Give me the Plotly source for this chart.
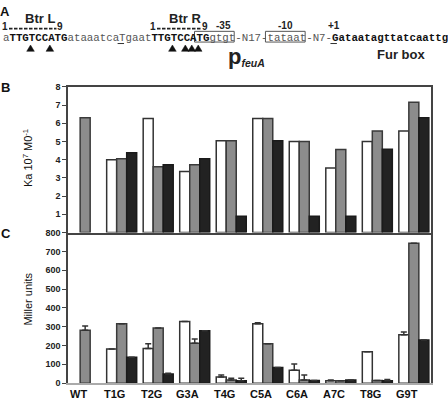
import plotly.graph_objects as go

# ---------------- data ----------------
categories = ["WT", "T1G", "T2G", "G3A", "T4G", "C5A", "C6A", "A7C", "T8G", "G9T"]

# Panel B: Ka (10^7 M^-1)
ka_white = [None, 4.0, 6.26, 3.36, 5.04, 6.26, 5.0, 3.54, 5.0, 5.58]
ka_gray = [6.3, 4.05, 3.61, 3.72, 5.04, 6.26, 5.0, 4.56, 5.58, 7.16]
ka_black = [None, 4.38, 3.72, 4.06, 0.9, 5.04, 0.9, 0.9, 4.58, 6.3]

# Panel C: Miller units
mu_white = [None, 181, 184, 328, 33, 316, 69, 12, 167, 257]
mu_gray = [281, 316, 293, 212, 17, 209, 17, 12, 14, 743]
mu_black = [None, 138, 48, 278, 12, 83, 14, 17, 12, 229]
mu_white_err = [0, 0, 25, 0, 10, 5, 33, 5, 0, 14]
mu_gray_err = [22, 0, 0, 22, 9, 0, 26, 0, 0, 0]
mu_black_err = [0, 0, 4, 0, 14, 0, 0, 0, 7, 0]

b_ticks = [1, 2, 3, 4, 5, 6, 7, 8]
c_ticks = [0, 100, 200, 300, 400, 500, 600, 700, 800]

W, H = 448, 405


def px(x):
    return x / W


def py(y):
    return 1 - y / H


fills = ["#ffffff", "#8c8c8c", "#222222"]
edges = ["#333333", "#3a3a3a", "#1a1a1a"]

fig = go.Figure()
for vals, f, e in zip([ka_white, ka_gray, ka_black], fills, edges):
    fig.add_trace(go.Bar(x=categories, y=vals, xaxis="x", yaxis="y",
                         marker=dict(color=f, line=dict(color=e, width=1.5)),
                         showlegend=False, hoverinfo="skip"))
for vals, err, f, e in zip([mu_white, mu_gray, mu_black],
                           [mu_white_err, mu_gray_err, mu_black_err], fills, edges):
    fig.add_trace(go.Bar(x=categories, y=vals, xaxis="x2", yaxis="y2",
                         marker=dict(color=f, line=dict(color=e, width=1.5)),
                         error_y=dict(type="data", array=err, arrayminus=[0] * len(err),
                                      symmetric=False, color="#333", thickness=1.5, width=3),
                         showlegend=False, hoverinfo="skip"))

xdom = [px(68), px(431)]
tickfont = dict(family="Liberation Sans", size=9, color="#222", weight="bold")
fig.update_layout(
    width=W, height=H, margin=dict(l=0, r=0, t=0, b=0),
    paper_bgcolor="white", plot_bgcolor="white",
    barmode="group", bargap=0.178, bargroupgap=0,
    xaxis=dict(domain=xdom, anchor="y", range=[-0.47, 9.47], showticklabels=False,
               showline=True, mirror=True, linecolor="#444", linewidth=1.5,
               showgrid=False, zeroline=False, ticks=""),
    yaxis=dict(domain=[py(233.3), py(84)], anchor="x", range=[0, 8], tickvals=b_ticks,
               ticks="outside", ticklen=4, tickcolor="#444", showline=True, mirror=True,
               linecolor="#444", linewidth=1.5, showgrid=False, zeroline=False,
               tickfont=tickfont),
    xaxis2=dict(domain=xdom, anchor="y2", range=[-0.47, 9.47], showticklabels=False,
                showline=True, linecolor="#aaa", linewidth=1.5, showgrid=False,
                zeroline=False, ticks=""),
    yaxis2=dict(domain=[py(387.7), py(233.3)], anchor="x2", range=[0, 800], tickvals=c_ticks,
                ticks="outside", ticklen=4, tickcolor="#444", showline=True, mirror=True,
                linecolor="#444", linewidth=1.5, showgrid=False, zeroline=False,
                tickfont=tickfont),
)

ann = []


def txt(t, x, y, size, family="Liberation Sans", color="#222", xanchor="center", **kw):
    d = dict(x=px(x), y=py(y), xref="paper", yref="paper", text=t, showarrow=False,
             xanchor=xanchor, yanchor="middle", borderpad=0,
             font=dict(family=family, size=size, color=color))
    d.update(kw)
    ann.append(d)


# x category labels
for i, c in enumerate(categories):
    ann.append(dict(x=i - 0.19, xref="x2", y=py(399), yref="paper", text="<b>%s</b>" % c,
                    showarrow=False, font=dict(family="Liberation Sans", size=11, color="#111"),
                    xanchor="center", yanchor="middle", borderpad=0))
# axis titles
txt("Ka 10<sup>7</sup> M0<sup>-1</sup>", 28, 157, 11, color="#111", textangle=-90)
txt("Miller units", 28, 302, 11, color="#111", textangle=-90)
# panel letters
for letter, x, y in [("A", 5, 7), ("B", 5, 85), ("C", 6, 234)]:
    txt("<b>%s</b>" % letter, x, y, 13, color="#111")

# panel A texts
g = "#555"
seq = ("<span style='color:%s'>a</span><b>TTGTCCATG</b>"
       "<span style='color:%s'>ataaatcaTgaat</span><b>TTGTCCATG</b>"
       "<span style='color:%s'>gtgt-N17-tataat-N7-</span><b>Gataatagttatcaattg</b>") % (g, g, g)
x0 = 1.5
cw = 6.45
txt(seq, x0, 33.5, 10.75, family="Liberation Mono", color="#111", xanchor="left")
for t, x, y, s in [("Btr L", 39.5, 13.5, 13), ("Btr R", 184.7, 13.5, 13),
                   ("1", 5.3, 22.5, 10), ("9", 59.5, 22.5, 10),
                   ("1", 153, 22.5, 10), ("9", 205, 22.5, 10),
                   ("-35", 223, 21.5, 10), ("-10", 285, 21.5, 10), ("+1", 333.5, 21.5, 10),
                   ("Fur box", 401, 51, 13)]:
    txt("<b>%s</b>" % t, x, y, s)
txt("<b><span style='font-size:22px'>p</span><sub><i>feuA</i></sub></b>", 227, 53, 15,
    xanchor="left")
fig.update_layout(annotations=ann)

shapes = []
# dashed lines
for a, b in [(9, 56.5), (157, 201.5)]:
    shapes.append(dict(type="line", xref="paper", yref="paper", x0=px(a), x1=px(b),
                       y0=py(24.3), y1=py(24.3),
                       line=dict(color="#222", width=1.8, dash="3.5px,1.5px")))
# boxes
for c0, c1 in [(30, 36), (41, 47)]:
    shapes.append(dict(type="rect", xref="paper", yref="paper",
                       x0=px(x0 + c0 * cw - 0.5), x1=px(x0 + c1 * cw + 0.5),
                       y0=py(38), y1=py(27), line=dict(color="#555", width=1)))
# underlines
for c in [18, 51]:
    shapes.append(dict(type="line", xref="paper", yref="paper",
                       x0=px(x0 + c * cw), x1=px(x0 + (c + 1) * cw),
                       y0=py(39.5), y1=py(39.5), line=dict(color="#333", width=1)))
# triangles
for c in [4, 7, 26, 28, 29, 30]:
    cx = x0 + (c + 0.5) * cw
    path = "M %f,%f L %f,%f L %f,%f Z" % (px(cx - 3.8), py(47.5), px(cx + 3.8), py(47.5),
                                          px(cx), py(41))
    shapes.append(dict(type="path", xref="paper", yref="paper", path=path,
                       fillcolor="#111", line=dict(color="#111", width=0.5)))
fig.update_layout(shapes=shapes)

fig.write_html("out.html", config={"displayModeBar": False},
               post_script="document.body.style.margin='0';")
